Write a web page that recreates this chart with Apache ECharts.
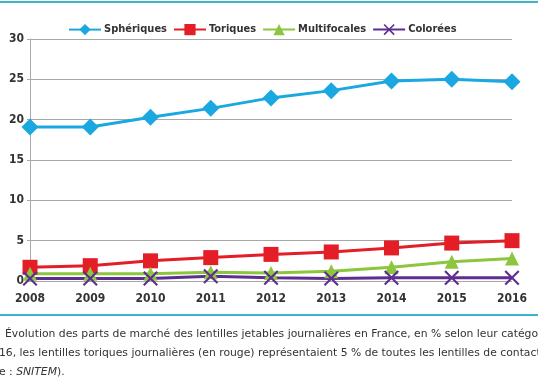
<!DOCTYPE html>
<html><head><meta charset="utf-8">
<script src="https://cdn.jsdelivr.net/npm/echarts@6/dist/echarts.min.js"></script>
<style>html,body{margin:0;padding:0;background:#fff}#c{width:538px;height:384px}</style>
</head><body><div id="c"></div>
<script>
const years = ['2008','2009','2010','2011','2012','2013','2014','2015','2016'];
const spheriques = [19.1, 19.1, 20.3, 21.4, 22.7, 23.6, 24.8, 25.0, 24.7];
const toriques = [1.7, 1.9, 2.5, 2.9, 3.3, 3.6, 4.1, 4.7, 5.0];
const multifocales = [0.9, 0.9, 0.9, 1.1, 1.0, 1.2, 1.7, 2.4, 2.8];
const colorees = [0.3, 0.3, 0.3, 0.6, 0.4, 0.3, 0.4, 0.4, 0.4];
const seriesNames = ['Sphériques','Toriques','Multifocales','Colorées'];
const captionLines = [
  'Évolution des parts de marché des lentilles jetables journalières en France, en % selon leur catégorie',
  '16, les lentilles toriques journalières (en rouge) représentaient 5 % de toutes les lentilles de contact',
];

const xPath = 'path://M1,0 L5,4 L9,0 L10,1 L6,5 L10,9 L9,10 L5,6 L1,10 L0,9 L4,5 L0,1 Z';
const font = 'DejaVu Sans Condensed, DejaVu Sans, sans-serif';
const capFont = 'DejaVu Sans, sans-serif';
const chart = echarts.init(document.getElementById('c'));
function mk(name, data, color, symbol, size){
  return {name, type:'line', data, symbol, symbolSize:size,
    lineStyle:{color, width:3}, itemStyle:{color}, emphasis:{disabled:true}, z: 3};
}
chart.setOption({
  animation:false,
  legend:{top:19, left:63, itemGap:6, itemWidth:32, itemHeight:14,
    textStyle:{fontFamily:font, fontWeight:'bold', fontSize:11, color:'#333', padding:[0,0,0,-2]},
    data:seriesNames},
  grid:{left:30, right:26, top:39, bottom:103, containLabel:false},
  xAxis:{type:'category', data:years, boundaryGap:false,
    axisLine:{show:false}, axisTick:{show:false},
    axisLabel:{fontFamily:font, fontWeight:'bold', fontSize:12, color:'#333', margin:12}},
  yAxis:{type:'value', min:0, max:30, interval:5,
    axisLine:{show:true, lineStyle:{color:'#a8a8a8', width:1}},
    axisTick:{show:true, length:3, lineStyle:{color:'#a8a8a8'}},
    splitLine:{lineStyle:{color:'#a8a8a8', width:1}},
    axisLabel:{fontFamily:font, fontWeight:'bold', fontSize:12, color:'#333', margin:6}},
  series:[
    mk(seriesNames[0], spheriques, '#1ba8e0', 'diamond', 17),
    mk(seriesNames[1], toriques, '#e41e26', 'rect', 15),
    mk(seriesNames[2], multifocales, '#8cc63f', 'triangle', 14),
    mk(seriesNames[3], colorees, '#5e2d91', xPath, 15)
  ],
  graphic:[
    {type:'rect', shape:{x:0,y:1,width:538,height:2}, style:{fill:'#3fb3c8'}},
    {type:'rect', shape:{x:0,y:314,width:538,height:2}, style:{fill:'#3fb3c8'}},
    {type:'text', x:5, y:329, style:{text:captionLines[0], font:'10.8px '+capFont, fill:'#333'}},
    {type:'text', x:-1, y:348, style:{text:captionLines[1], font:'10.8px '+capFont, fill:'#333'}},
    {type:'text', x:-1, y:367, style:{rich:{a:{font:'10.8px '+capFont, fill:'#333'}, b:{font:'italic 10.8px '+capFont, fill:'#333'}}, text:'{a|e : }{b|SNITEM}{a|).}'}}
  ]
});
</script></body></html>
